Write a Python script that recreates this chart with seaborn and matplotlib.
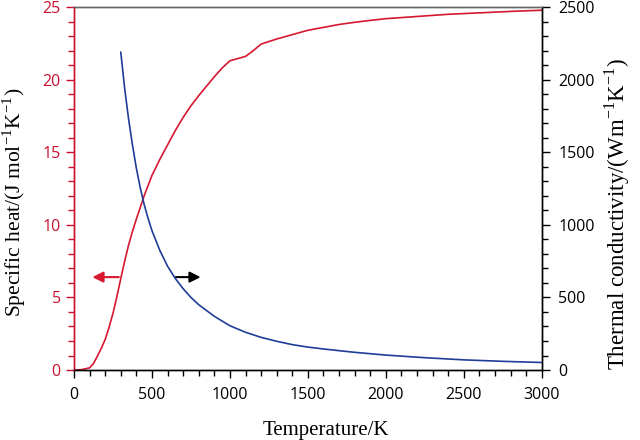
import numpy as np
import pandas as pd
import matplotlib
matplotlib.use("Agg")
import matplotlib.pyplot as plt
import seaborn as sns
from matplotlib.ticker import MultipleLocator

# Specific heat (left axis)
temp_cp = [0, 50, 100, 125, 150, 175, 200, 225, 250, 275, 300, 325, 350, 375, 400,
           450, 500, 550, 600, 650, 700, 750, 800, 850, 900, 950, 1000, 1050, 1100,
           1150, 1200, 1300, 1400, 1500, 1600, 1700, 1800, 1900, 2000, 2200, 2400,
           2600, 2800, 3000]
cp = [0, 0.03, 0.15, 0.45, 0.95, 1.5, 2.1, 2.95, 3.9, 5.05, 6.3, 7.5, 8.6, 9.55, 10.4,
      12.0, 13.4, 14.5, 15.5, 16.5, 17.4, 18.2, 18.9, 19.55, 20.2, 20.8, 21.3, 21.45, 21.6,
      22.0, 22.45, 22.8, 23.1, 23.4, 23.6, 23.8, 23.95, 24.08, 24.2, 24.35, 24.5,
      24.6, 24.7, 24.78]

# Thermal conductivity (right axis)
temp_k = [300, 325, 350, 375, 400, 425, 450, 475, 500, 550, 600, 650, 700, 750, 800,
          900, 1000, 1100, 1200, 1300, 1400, 1500, 1600, 1800, 2000, 2250, 2500, 2750, 3000]
kappa = [2190, 1940, 1730, 1550, 1390, 1255, 1140, 1045, 960, 825, 715, 630, 560, 500, 450,
         370, 305, 260, 225, 198, 175, 158, 145, 122, 103, 85, 70, 60, 52]

red = "#d7172f"
tick_red = "#c8102e"
blue = "#1f3c99"

sns.set_style("ticks")
serif = ["Liberation Serif", "DejaVu Serif"]
sans = ["Open Sans", "DejaVu Sans"]
plt.rcParams["font.family"] = sans

df_cp = pd.DataFrame({"T": temp_cp, "cp": cp})
df_k = pd.DataFrame({"T": temp_k, "k": kappa})

fig = plt.figure(figsize=(6.4, 4.4), dpi=100)
ax = fig.add_axes([0.1156, 0.159, 0.731, 0.825])
ax2 = ax.twinx()

sns.lineplot(data=df_cp, x="T", y="cp", ax=ax, color=red, linewidth=1.2)
sns.lineplot(data=df_k, x="T", y="k", ax=ax2, color=blue, linewidth=1.2)

ax.set_xlim(0, 3000)
ax.set_ylim(0, 25)
ax2.set_ylim(0, 2500)

ax.xaxis.set_major_locator(MultipleLocator(500))
ax.xaxis.set_minor_locator(MultipleLocator(100))
ax.yaxis.set_major_locator(MultipleLocator(5))
ax.yaxis.set_minor_locator(MultipleLocator(1))
ax2.yaxis.set_major_locator(MultipleLocator(500))
ax2.yaxis.set_minor_locator(MultipleLocator(100))

ax.tick_params(axis="x", which="both", direction="out", colors="black", labelsize=11.5, pad=6)
ax.tick_params(axis="x", which="major", length=6, width=1)
ax.tick_params(axis="x", which="minor", length=4, width=1)
ax.tick_params(axis="y", which="both", direction="out", colors=tick_red, labelsize=11.5)
ax.tick_params(axis="y", which="major", length=6, width=1)
ax.tick_params(axis="y", which="minor", length=4, width=1)
ax2.tick_params(axis="y", which="both", direction="out", colors="black", labelsize=11.5, pad=6)
ax2.tick_params(axis="y", which="major", length=6, width=1)
ax2.tick_params(axis="y", which="minor", length=4, width=1)

for a in (ax, ax2):
    a.spines["left"].set_color(tick_red)
    a.spines["right"].set_color("black")
    a.spines["top"].set_color("#666666")
    a.spines["bottom"].set_color("black")
    for s in a.spines.values():
        s.set_linewidth(1)
    a.spines["top"].set_visible(True)
    a.spines["right"].set_visible(True)

ax.set_xlabel("Temperature/K", family=serif, fontsize=15, color="black")
ax.set_ylabel(r"Specific heat/(J mol$^{\mathregular{-1}}$K$^{\mathregular{-1}}$)",
              family=serif, fontsize=15.5, color="black")
ax2.set_ylabel(r"Thermal conductivity/(Wm$^{\mathregular{-1}}$K$^{\mathregular{-1}}$)",
               family=serif, fontsize=16.5, color="black")
ax.xaxis.set_label_coords(0.538, -0.14)
ax.yaxis.set_label_coords(-0.098, 0.463)
ax2.yaxis.set_label_coords(1.13, 0.43)
ax.yaxis.label.set_color("black")

# direction arrows
ax.annotate("", xy=(100, 6.4), xytext=(305, 6.4),
            arrowprops=dict(arrowstyle="-|>", color=red, lw=1.5, mutation_scale=16))
ax.annotate("", xy=(830, 6.4), xytext=(635, 6.4),
            arrowprops=dict(arrowstyle="-|>", color="black", lw=1.5, mutation_scale=16))

fig.savefig("out.png", dpi=100)
